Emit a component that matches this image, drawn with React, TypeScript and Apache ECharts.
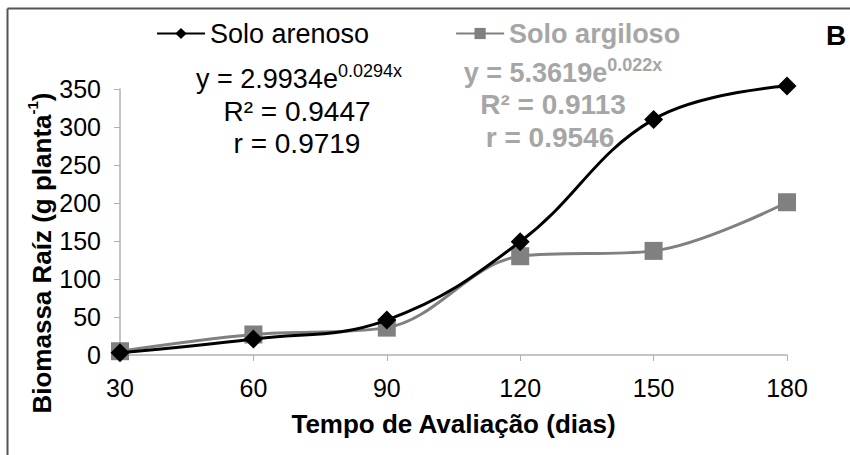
import React, { useEffect, useRef } from "react";
import * as echarts from "echarts";

const days = [30, 60, 90, 120, 150, 180];
const arenoso = [3, 21, 46, 149, 310, 354];
const argiloso = [5, 27, 36, 130, 137, 201];
const seriesNames = ["Solo arenoso", "Solo argiloso"];
const yTicks = { min: 0, max: 350, interval: 50 };
const xTicks = { min: 30, max: 180, interval: 30 };

const FONT = "Liberation Sans, Arial, sans-serif";
const GRAY_TXT = "#a6a6a6";
const GRAY_LINE = "#808080";

export default function App() {
  const ref = useRef<HTMLDivElement>(null);
  useEffect(() => {
    if (!ref.current) return;
    const chart = echarts.init(ref.current, undefined, { renderer: "svg" });
    const eq = (x: number, y: number, main: string, sup: string, color: string, bold: boolean) => ({
      type: "text",
      x,
      y,
      style: {
        text: `{a|${main}}{s|${sup}}`,
        textAlign: "center",
        textVerticalAlign: "middle",
        rich: {
          a: { fontSize: 27, fontFamily: FONT, fill: color, fontWeight: bold ? "bold" : "normal", lineHeight: 31, verticalAlign: "bottom" },
          s: { fontSize: 18, fontFamily: FONT, fill: color, fontWeight: bold ? "bold" : "normal", lineHeight: 31, verticalAlign: "top", padding: [0, 0, 14, 0] },
        },
      },
    });
    const plain = (x: number, y: number, text: string, color: string, bold: boolean, size = 28) => ({
      type: "text",
      x,
      y,
      style: {
        text,
        textAlign: "center",
        textVerticalAlign: "middle",
        fontSize: size,
        fontFamily: FONT,
        fill: color,
        fontWeight: bold ? "bold" : "normal",
      },
    });
    chart.setOption({
      animation: false,
      backgroundColor: "#ffffff",
      grid: { left: 120, right: 63, top: 89, bottom: 100, containLabel: false },
      legend: {
        left: 151,
        top: 15,
        itemWidth: 48,
        itemHeight: 14,
        itemGap: 86,
        data: [
          { name: seriesNames[0], textStyle: { color: "#000000", fontSize: 27, fontFamily: FONT } },
          { name: seriesNames[1], textStyle: { color: GRAY_TXT, fontSize: 27, fontFamily: FONT, fontWeight: "bold" } },
        ],
      },
      xAxis: {
        type: "value",
        min: xTicks.min,
        max: xTicks.max,
        interval: xTicks.interval,
        splitLine: { show: false },
        axisLine: { show: true, lineStyle: { color: "#b0b0b0", width: 1.5 } },
        axisTick: { show: true, length: 6, lineStyle: { color: "#b0b0b0" } },
        axisLabel: { color: "#000", fontSize: 25, fontFamily: FONT, margin: 20 },
        name: "Tempo de Avaliação (dias)",
        nameLocation: "middle",
        nameGap: 56,
        nameTextStyle: { color: "#000", fontSize: 26, fontWeight: "bold", fontFamily: FONT },
      },
      yAxis: {
        type: "value",
        min: yTicks.min,
        max: yTicks.max,
        interval: yTicks.interval,
        splitLine: { show: false },
        axisLine: { show: true, lineStyle: { color: "#b0b0b0", width: 1.5 } },
        axisTick: { show: true, length: 6, lineStyle: { color: "#b0b0b0" } },
        axisLabel: { color: "#000", fontSize: 25, fontFamily: FONT, margin: 19 },
      },
      series: [
        {
          name: seriesNames[0],
          type: "line",
          smooth: 0.4,
          clip: false,
          data: days.map((d, i) => [d, arenoso[i]]),
          symbol: "diamond",
          symbolSize: 19,
          itemStyle: { color: "#000000" },
          lineStyle: { color: "#000000", width: 3 },
          z: 3,
        },
        {
          name: seriesNames[1],
          type: "line",
          smooth: 0.35,
          clip: false,
          data: days.map((d, i) => [d, argiloso[i]]),
          symbol: "rect",
          symbolSize: 18,
          itemStyle: { color: GRAY_LINE },
          lineStyle: { color: GRAY_LINE, width: 3 },
          z: 2,
        },
      ],
      graphic: [
        { type: "line", shape: { x1: 7.5, y1: 8.5, x2: 850, y2: 8.5 }, style: { stroke: "#555", lineWidth: 2 } },
        { type: "line", shape: { x1: 7.5, y1: 8.5, x2: 7.5, y2: 455 }, style: { stroke: "#555", lineWidth: 2 } },
        {
          type: "text",
          x: 40,
          y: 253,
          rotation: Math.PI / 2,
          style: {
            text: "{a|Biomassa Raíz (g planta}{s|-1}{a|)}",
            textAlign: "center",
            textVerticalAlign: "middle",
            rich: {
              a: { fill: "#000", fontSize: 26, fontWeight: "bold", fontFamily: FONT, lineHeight: 30, verticalAlign: "bottom" },
              s: { fill: "#000", fontSize: 15, fontWeight: "bold", fontFamily: FONT, lineHeight: 30, verticalAlign: "top", padding: [0, 0, 14, 0] },
            },
          },
        },
        eq(299, 77, "y = 2.9934e", "0.0294x", "#000", false),
        plain(297, 111, "R² = 0.9447", "#000", false),
        plain(297, 143, "r = 0.9719", "#000", false),
        eq(563, 71, "y = 5.3619e", "0.022x", GRAY_TXT, true),
        plain(553, 104, "R² = 0.9113", GRAY_TXT, true),
        plain(550, 137, "r = 0.9546", GRAY_TXT, true),
        plain(836, 35, "B", "#000", true, 28),
      ],
    });
    return () => chart.dispose();
  }, []);
  return <div ref={ref} style={{ width: 850, height: 455, position: "absolute", left: 0, top: 0 }} />;
}
